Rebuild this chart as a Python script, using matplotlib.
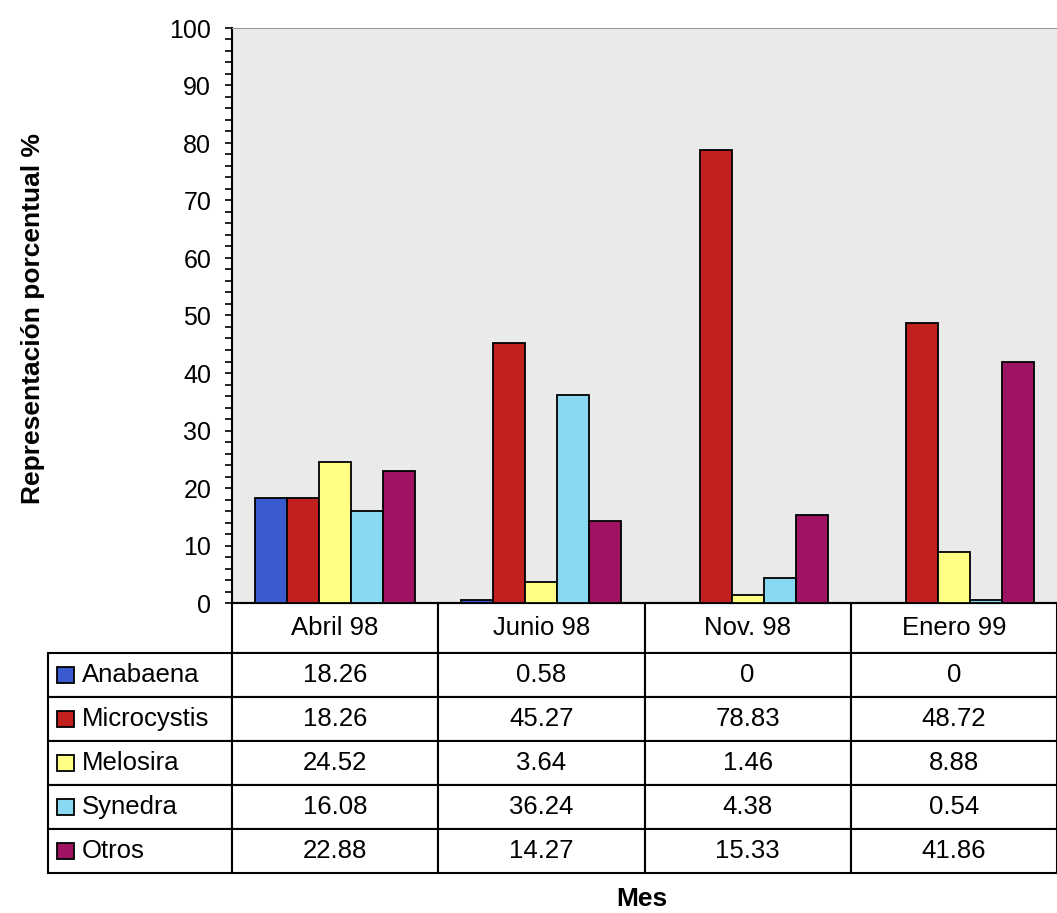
import matplotlib
matplotlib.use('Agg')
import matplotlib.pyplot as plt
from matplotlib.patches import Rectangle
from matplotlib.table import Table

plt.rcParams['font.family'] = ['Liberation Sans', 'DejaVu Sans']

meses = ['Abril 98', 'Junio 98', 'Nov. 98', 'Enero 99']
generos = ['Anabaena', 'Microcystis', 'Melosira', 'Synedra', 'Otros']
anabaena = [18.26, 0.58, 0, 0]
microcystis = [18.26, 45.27, 78.83, 48.72]
melosira = [24.52, 3.64, 1.46, 8.88]
synedra = [16.08, 36.24, 4.38, 0.54]
otros = [22.88, 14.27, 15.33, 41.86]
colores = ['#3a5bd0', '#c21f1f', '#ffff84', '#8ad9f2', '#9e1462']

series = [anabaena, microcystis, melosira, synedra, otros]

W, H = 1057, 913
fig = plt.figure(figsize=(W / 100, H / 100), dpi=100)
# eje en pixeles: x 232-1057, y 28-603
ax = fig.add_axes([232 / W, (H - 603) / H, (W - 232) / W, (603 - 28) / H])
ax.set_facecolor('#eaeaea')

ancho = 0.155
x = range(len(meses))
for i, vals in enumerate(series):
    pos = [k + (i - 2) * ancho for k in x]
    ax.bar(pos, vals, width=ancho, color=colores[i], edgecolor='black', linewidth=1.3, zorder=3)

ax.set_xlim(-0.5, len(meses) - 0.5)
ax.set_ylim(0, 100)
ax.set_yticks(range(0, 101, 10))
ax.set_yticks(range(0, 101, 2), minor=True)
ax.tick_params(axis='y', which='both', direction='out', length=5, width=1.2, labelsize=18, pad=10)
ax.set_xticks([])
ax.spines['left'].set_linewidth(1.5)
ax.spines['bottom'].set_linewidth(1.5)
ax.spines['top'].set_color('#999999')
ax.spines['right'].set_visible(False)

# tabla de datos bajo el grafico
ax_w, ax_h = W - 232, 603 - 28
wl, wc = 184 / ax_w, 206.25 / ax_w
hh, hr = 50 / ax_h, 44 / ax_h
tabla = Table(ax, bbox=[0, (603 - 873) / ax_h, 1, 270 / ax_h])
for c, mes in enumerate(meses):
    tabla.add_cell(0, c, wc, hh, text=mes, loc='center')
for r, (gen, vals) in enumerate(zip(generos, series)):
    lab = tabla.add_cell(r + 1, -1, wl, hr, text=gen, loc='left')
    lab.PAD = 34 / 184
    for c, v in enumerate(vals):
        tabla.add_cell(r + 1, c, wc, hr, text=f'{v:g}', loc='center')
tabla.auto_set_font_size(False)
tabla.set_fontsize(18.5)
for cell in tabla.get_celld().values():
    cell.set_linewidth(1.5)
    cell.set_edgecolor('black')
ax.add_table(tabla)

# cuadros de leyenda en la columna de etiquetas
for i, col in enumerate(colores):
    yc = 603 + 50 + 44 * i + 22
    fig.add_artist(Rectangle((57 / W, (H - yc - 8) / H), 17 / W, 16 / H,
                             transform=fig.transFigure, facecolor=col,
                             edgecolor='black', linewidth=1.3))

fig.text(33 / W, 1 - 318 / H, 'Representación porcentual %', rotation=90,
         ha='center', va='center', fontsize=19, fontweight='bold')
fig.text(642 / W, 1 - 899 / H, 'Mes', ha='center', va='center', fontsize=19, fontweight='bold')

fig.savefig('out.png', dpi=100)
